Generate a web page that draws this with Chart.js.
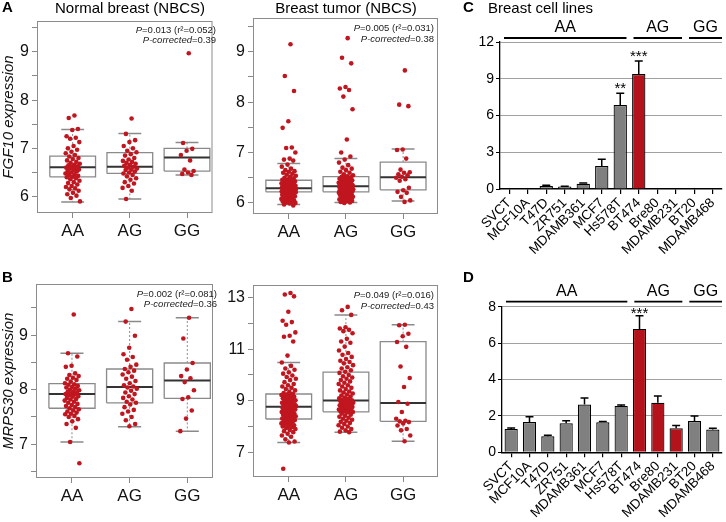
<!DOCTYPE html>
<html lang="en">
<head>
<meta charset="UTF-8">
<title>FGF10 / MRPS30 expression by genotype</title>
<script src="https://cdn.jsdelivr.net/npm/chart.js"></script>
<style>
  body { margin: 0; background: #fff; }
  #wrap { position: relative; width: 726px; height: 522px; overflow: hidden; }
  canvas { position: absolute; }
</style>
</head>
<body>
<div id="wrap">
  <canvas id="a1" width="232" height="252" style="left:0;top:0"></canvas>
  <canvas id="a2" width="222" height="252" style="left:226px;top:0"></canvas>
  <canvas id="b1" width="232" height="260" style="left:0;top:262px"></canvas>
  <canvas id="b2" width="222" height="260" style="left:226px;top:262px"></canvas>
  <canvas id="c" width="271" height="262" style="left:455px;top:0"></canvas>
  <canvas id="d" width="271" height="260" style="left:455px;top:262px"></canvas>
</div>
<script>
const genotypes = ['AA', 'AG', 'GG'];

// A - FGF10, normal breast (NBCS)
const fgfNormLow  = [5.89, 5.95, 6.45];
const fgfNormQ1   = [6.41, 6.48, 6.53];
const fgfNormMed  = [6.61, 6.62, 6.81];
const fgfNormQ3   = [6.84, 6.91, 7.00];
const fgfNormHigh = [7.39, 7.31, 7.12];
const fgfNormAA = [7.68, 7.63, 7.40, 7.38, 7.25, 7.22, 7.20, 7.13, 7.05, 7.00, 6.97, 6.93, 6.90, 6.86, 6.83, 6.80, 6.78, 6.75, 6.72, 6.70, 6.68, 6.66, 6.65, 6.63, 6.62, 6.60, 6.59, 6.58, 6.56, 6.55, 6.53, 6.52, 6.50, 6.48, 6.46, 6.45, 6.43, 6.41, 6.40, 6.38, 6.36, 6.33, 6.30, 6.28, 6.25, 6.22, 6.20, 6.17, 6.15, 6.12, 6.08, 6.05, 6.02, 5.97, 5.90];
const fgfNormAG = [7.62, 7.30, 7.17, 7.13, 7.05, 7.00, 6.95, 6.92, 6.88, 6.85, 6.80, 6.77, 6.74, 6.72, 6.70, 6.68, 6.66, 6.64, 6.62, 6.60, 6.58, 6.56, 6.55, 6.52, 6.50, 6.48, 6.45, 6.42, 6.38, 6.35, 6.30, 6.27, 6.22, 6.18, 6.12, 5.95];
const fgfNormGG = [8.97, 7.11, 6.99, 6.95, 6.86, 6.75, 6.56, 6.53, 6.50, 6.47, 6.45];
const fgfNormTicks = [6, 7, 8, 9];
const fgfNormMinor = [6.5, 7.5, 8.5, 9.5];

// A - FGF10, breast tumor (NBCS)
const fgfTumLow  = [5.97, 6.01, 6.04];
const fgfTumQ1   = [6.22, 6.22, 6.26];
const fgfTumMed  = [6.29, 6.33, 6.51];
const fgfTumQ3   = [6.45, 6.52, 6.81];
const fgfTumHigh = [6.78, 6.88, 7.07];
const fgfTumAA = [9.15, 8.52, 8.22, 7.62, 7.49, 7.10, 7.09, 7.00, 6.88, 6.86, 6.84, 6.76, 6.72, 6.68, 6.65, 6.63, 6.62, 6.60, 6.58, 6.56, 6.54, 6.52, 6.50, 6.49, 6.47,
  6.46, 6.45, 6.44, 6.43, 6.42, 6.41, 6.40, 6.40, 6.39, 6.38, 6.37, 6.37, 6.36, 6.35, 6.35, 6.34, 6.34, 6.33, 6.33, 6.32, 6.32, 6.31, 6.31, 6.30, 6.30,
  6.30, 6.29, 6.29, 6.28, 6.28, 6.28, 6.27, 6.27, 6.26, 6.26, 6.26, 6.25, 6.25, 6.25, 6.24, 6.24, 6.24, 6.23, 6.23, 6.23, 6.23, 6.22, 6.22, 6.22, 6.22,
  6.21, 6.20, 6.19, 6.18, 6.17, 6.16, 6.15, 6.14, 6.13, 6.12, 6.11, 6.10, 6.09, 6.08, 6.07, 6.06, 6.05, 6.04, 6.03, 6.02, 6.01, 6.00, 5.99, 5.97, 5.95];
const fgfTumAG = [9.27, 8.88, 8.77, 8.30, 8.27, 8.24, 8.11, 7.86, 7.26, 7.00, 6.92, 6.86, 6.80, 6.75, 6.70, 6.68, 6.65, 6.62, 6.60, 6.57, 6.55, 6.53,
  6.52, 6.51, 6.50, 6.48, 6.47, 6.46, 6.45, 6.44, 6.43, 6.42, 6.41, 6.40, 6.40, 6.39, 6.38, 6.37, 6.37, 6.36, 6.36, 6.35, 6.34, 6.34,
  6.33, 6.32, 6.32, 6.31, 6.30, 6.30, 6.29, 6.29, 6.28, 6.28, 6.27, 6.27, 6.26, 6.26, 6.25, 6.25, 6.24, 6.24, 6.23, 6.23, 6.22, 6.22,
  6.21, 6.20, 6.19, 6.18, 6.17, 6.16, 6.15, 6.14, 6.13, 6.12, 6.11, 6.10, 6.09, 6.08, 6.07, 6.06, 6.05, 6.04, 6.03, 6.02, 6.01, 6.00];
const fgfTumGG = [8.63, 7.95, 7.92, 7.06, 7.05, 6.88, 6.66, 6.61, 6.60, 6.57, 6.55, 6.52, 6.50, 6.47, 6.44, 6.30, 6.25, 6.22, 6.20, 6.12, 6.05, 6.02];
const fgfTumTicks = [6, 7, 8, 9];
const fgfTumMinor = [6.5, 7.5, 8.5, 9.5];

// B - MRPS30, normal breast
const mrpNormLow  = [7.04, 7.32, 7.24];
const mrpNormQ1   = [7.66, 7.76, 7.84];
const mrpNormMed  = [7.92, 8.05, 8.17];
const mrpNormQ3   = [8.11, 8.38, 8.49];
const mrpNormHigh = [8.67, 9.25, 9.32];
const mrpNormAA = [9.38, 8.67, 8.61, 8.44, 8.42, 8.30, 8.27, 8.25, 8.22, 8.20, 8.18, 8.15, 8.12, 8.10, 8.09, 8.07, 8.05, 8.04, 8.02, 8.00, 7.99, 7.97, 7.96, 7.94, 7.93, 7.92, 7.91, 7.90, 7.88, 7.87, 7.85, 7.83, 7.82, 7.80, 7.78, 7.76, 7.74, 7.72, 7.70, 7.68, 7.66, 7.64, 7.62, 7.60, 7.58, 7.56, 7.55, 7.52, 7.50, 7.46, 7.42, 7.37, 7.30, 7.04, 6.65];
const mrpNormAG = [9.48, 9.25, 8.99, 8.77, 8.65, 8.60, 8.55, 8.46, 8.42, 8.38, 8.35, 8.32, 8.28, 8.24, 8.20, 8.16, 8.12, 8.08, 8.06, 8.04, 8.02, 7.98, 7.95, 7.92, 7.88, 7.85, 7.82, 7.78, 7.76, 7.73, 7.68, 7.63, 7.60, 7.56, 7.50, 7.44, 7.37, 7.33];
const mrpNormGG = [9.32, 8.94, 8.49, 8.37, 8.25, 8.21, 8.14, 7.99, 7.86, 7.83, 7.62, 7.47, 7.24];
const mrpNormTicks = [7, 8, 9];
const mrpNormMinor = [6.5, 7.5, 8.5, 9.5];

// B - MRPS30, breast tumor
const mrpTumLow  = [7.38, 7.78, 7.43];
const mrpTumQ1   = [8.29, 8.57, 8.20];
const mrpTumMed  = [8.77, 9.01, 8.91];
const mrpTumQ3   = [9.26, 10.11, 11.29];
const mrpTumHigh = [10.48, 12.33, 11.95];
const mrpTumAA = [13.18, 13.12, 13.05, 12.45, 12.10, 12.05, 11.95, 11.65, 11.52, 11.48, 11.30, 10.75,
  10.48, 10.35, 10.25, 10.20, 10.10, 10.05, 9.98, 9.92, 9.85, 9.80, 9.72, 9.65, 9.60, 9.55, 9.50, 9.45, 9.40, 9.35, 9.30, 9.27,
  9.25, 9.22, 9.20, 9.18, 9.15, 9.12, 9.10, 9.08, 9.05, 9.02, 9.00, 8.98, 8.95, 8.93, 8.92, 8.90, 8.88, 8.86, 8.85, 8.83, 8.82, 8.80, 8.79, 8.78, 8.77,
  8.76, 8.74, 8.72, 8.70, 8.68, 8.66, 8.64, 8.62, 8.60, 8.58, 8.56, 8.54, 8.52, 8.50, 8.48, 8.46, 8.44, 8.42, 8.40, 8.38, 8.36, 8.34, 8.32, 8.31, 8.30,
  8.28, 8.25, 8.22, 8.20, 8.18, 8.15, 8.12, 8.10, 8.08, 8.05, 8.02, 8.00, 7.97, 7.94, 7.90, 7.86, 7.82, 7.78, 7.72, 7.65, 7.60, 7.50, 7.42, 7.38, 6.36];
const mrpTumAG = [12.64, 12.51, 12.33, 11.85, 11.80, 11.75, 11.70, 11.62, 11.40, 11.30, 11.25, 11.10, 10.95, 10.85, 10.78, 10.70, 10.62, 10.55, 10.50, 10.45, 10.38, 10.30, 10.25, 10.18, 10.12,
  10.08, 10.00, 9.95, 9.90, 9.85, 9.80, 9.75, 9.70, 9.65, 9.60, 9.55, 9.50, 9.45, 9.40, 9.36, 9.32, 9.28, 9.24, 9.20, 9.16, 9.12, 9.09, 9.06, 9.04, 9.02,
  9.00, 8.98, 8.96, 8.94, 8.92, 8.90, 8.88, 8.86, 8.84, 8.82, 8.80, 8.78, 8.76, 8.74, 8.72, 8.70, 8.68, 8.66, 8.65, 8.64, 8.62, 8.61, 8.60, 8.59, 8.58,
  8.56, 8.54, 8.50, 8.46, 8.42, 8.38, 8.34, 8.30, 8.26, 8.22, 8.18, 8.14, 8.10, 8.05, 8.00, 7.95, 7.90, 7.85, 7.80, 7.78];
const mrpTumGG = [11.95, 11.93, 11.60, 11.50, 11.28, 11.09, 10.33, 9.88, 9.53, 8.95, 8.88, 8.56, 8.30, 8.22, 8.20, 8.17, 8.12, 8.04, 7.90, 7.85, 7.65, 7.43];
const mrpTumTicks = [7, 9, 11, 13];
const mrpTumMinor = [8, 10, 12];

// C / D - breast cell lines
const cellLines = ['SVCT', 'MCF10A', 'T47D', 'ZR751', 'MDAMB361', 'MCF7', 'Hs578T', 'BT474', 'Bre80', 'MDAMB231', 'BT20', 'MDAMB468'];
const cellGenotype = ['AA', 'AA', 'AA', 'AA', 'AA', 'AA', 'AA', 'AG', 'AG', 'AG', 'GG', 'GG'];
const fgfCell    = [0, 0, 0.25, 0.20, 0.42, 1.88, 6.85, 9.38, 0, 0, 0, 0];
const fgfCellErr = [0, 0, 0.05, 0.03, 0.06, 0.55, 0.97, 1.07, 0, 0, 0, 0];
const fgfCellSig = ['', '', '', '', '', '', '**', '***', '', '', '', ''];
const mrpCell    = [1.28, 1.66, 0.88, 1.60, 2.62, 1.65, 2.55, 6.78, 2.72, 1.32, 1.72, 1.25];
const mrpCellErr = [0.06, 0.29, 0.05, 0.14, 0.36, 0.04, 0.05, 0.72, 0.38, 0.15, 0.27, 0.07];
const mrpCellSig = ['', '', '', '', '', '', '', '***', '', '', '', ''];

const FONT = '"Liberation Sans", Arial, Helvetica, sans-serif';
const PT_RED = '#c0161f';
const BAR_RED = '#b5131c';
const BAR_GRAY = '#808080';
Chart.defaults.font.family = FONT;

// small horizontal spread for the strip points
function jitter(i) { return (((i + 1) * 0.618034) % 1 - 0.5) * 0.26; }

function seg(list) {
  const out = [];
  list.forEach(s => { out.push(...s, { x: s[0].x, y: null }); });
  return out;
}

function drawRuns(ctx, runs, right, y) {
  const fonts = runs.map(r => (r[1] ? 'italic ' : '') + '9.5px ' + FONT);
  let w = 0;
  runs.forEach((r, i) => { ctx.font = fonts[i]; w += ctx.measureText(r[0]).width; });
  let x = right - w;
  ctx.textAlign = 'left';
  ctx.textBaseline = 'middle';
  runs.forEach((r, i) => { ctx.font = fonts[i]; ctx.fillText(r[0], x, y); x += ctx.measureText(r[0]).width; });
}

const boxDeco = {
  id: 'boxDeco',
  beforeDatasetsDraw(chart) {
    const { ctx, chartArea: a } = chart;
    ctx.save();
    ctx.strokeStyle = '#8c8c8c';
    ctx.lineWidth = 1;
    ctx.strokeRect(a.left + 0.5, a.top + 0.5, a.right - a.left - 1, a.bottom - a.top - 1);
    ctx.restore();
  },
  afterDraw(chart, args, o) {
    const ctx = chart.ctx;
    ctx.save();
    ctx.fillStyle = '#000';
    if (o.letter) {
      ctx.font = 'bold 15px ' + FONT;
      ctx.textAlign = 'left'; ctx.textBaseline = 'middle';
      ctx.fillText(o.letter, 2, o.letterY);
    }
    if (o.title) {
      ctx.font = '15px ' + FONT;
      ctx.textAlign = 'center'; ctx.textBaseline = 'middle';
      ctx.fillText(o.title, o.titleX, o.titleY);
    }
    ctx.fillStyle = '#222';
    o.stats.forEach((line, k) => drawRuns(ctx, line, o.statX, o.statY[k]));
    ctx.restore();
  }
};

function boxChart(id, o) {
  const pts = [], whisk = [], caps = [], boxes = [], meds = [];
  o.points.forEach((arr, g) => arr.forEach((v, i) => pts.push({ x: g + 1 + jitter(i), y: v })));
  genotypes.forEach((_, g) => {
    const c = g + 1;
    whisk.push([{ x: c, y: o.q3[g] }, { x: c, y: o.high[g] }], [{ x: c, y: o.q1[g] }, { x: c, y: o.low[g] }]);
    caps.push([{ x: c - 0.2, y: o.high[g] }, { x: c + 0.2, y: o.high[g] }], [{ x: c - 0.2, y: o.low[g] }, { x: c + 0.2, y: o.low[g] }]);
    boxes.push([{ x: c - 0.4, y: o.q1[g] }, { x: c + 0.4, y: o.q1[g] }, { x: c + 0.4, y: o.q3[g] }, { x: c - 0.4, y: o.q3[g] }, { x: c - 0.4, y: o.q1[g] }]);
    meds.push([{ x: c - 0.4, y: o.med[g] }, { x: c + 0.4, y: o.med[g] }]);
  });
  const lineSet = (data, color, width, dash, order) => ({
    type: 'line', data: seg(data), borderColor: color, borderWidth: width, borderDash: dash,
    pointRadius: 0, fill: false, spanGaps: false, tension: 0, order: order
  });
  const canvas = document.getElementById(id);
  const allTicks = o.ticks.concat(o.minor).sort((a, b) => a - b);
  new Chart(canvas, {
    type: 'scatter',
    data: {
      datasets: [
        { type: 'scatter', data: pts, backgroundColor: PT_RED, borderWidth: 0, pointRadius: 2.3, order: 0 },
        lineSet(meds, '#333', 2, [], 1),
        lineSet(boxes, '#8a8a8a', 1.3, [], 2),
        lineSet(caps, '#8a8a8a', 1.5, [], 3),
        lineSet(whisk, '#8a8a8a', 1, [2, 2], 4)
      ]
    },
    options: {
      responsive: false, animation: false, events: [],
      layout: { padding: { top: o.top, right: canvas.width - o.right, left: 0, bottom: 0 } },
      plugins: {
        legend: { display: false }, tooltip: { enabled: false },
        boxDeco: o.deco
      },
      scales: {
        x: {
          type: 'linear', min: o.xMin, max: o.xMax,
          afterBuildTicks: s => { s.ticks = [1, 2, 3].map(v => ({ value: v })); },
          afterFit: s => { s.height = canvas.height - o.bottom; },
          ticks: { callback: v => genotypes[v - 1], font: { size: 17 }, color: '#111', padding: 3, autoSkip: false, maxRotation: 0 },
          grid: { drawOnChartArea: false, tickLength: 5, color: '#888' },
          border: { display: false }
        },
        y: {
          type: 'linear', min: o.yMin, max: o.yMax,
          afterBuildTicks: s => { s.ticks = allTicks.map(v => ({ value: v })); },
          afterFit: s => { s.width = o.left; },
          ticks: { callback: v => o.ticks.includes(v) ? String(v) : '', font: { size: 16 }, color: '#111', padding: 3, autoSkip: false },
          grid: { drawOnChartArea: false, tickLength: 5, color: '#888' },
          border: { display: false },
          title: { display: !!o.yTitle, text: o.yTitle || '', font: { size: 15, style: 'italic' }, color: '#111', padding: 0 }
        }
      }
    },
    plugins: [boxDeco]
  });
}

const barDeco = {
  id: 'barDeco',
  afterDatasetsDraw(chart, args, o) {
    const { ctx } = chart;
    const xs = chart.scales.x, ys = chart.scales.y;
    const meta = chart.getDatasetMeta(0);
    ctx.save();
    ctx.strokeStyle = '#000';
    ctx.lineWidth = 1.5;
    o.err.forEach((e, i) => {
      if (!e) return;
      const bar = meta.data[i];
      const y0 = ys.getPixelForValue(o.values[i]);
      const y1 = ys.getPixelForValue(o.values[i] + e);
      const hw = bar.width * 0.3;
      ctx.beginPath();
      ctx.moveTo(bar.x, y0); ctx.lineTo(bar.x, y1);
      ctx.moveTo(bar.x - hw, y1); ctx.lineTo(bar.x + hw, y1);
      ctx.stroke();
    });
    ctx.fillStyle = '#000';
    ctx.font = '15px ' + FONT;
    ctx.textAlign = 'center';
    ctx.textBaseline = 'alphabetic';
    o.sig.forEach((s, i) => {
      if (!s) return;
      const y1 = ys.getPixelForValue(o.values[i] + o.err[i]);
      ctx.fillText(s, meta.data[i].x, y1 + o.starDy);
    });
    // genotype group rules above the bars
    const step = xs.width / cellLines.length;
    const lineY = chart.chartArea.top - o.groupGap;
    let start = 0;
    for (let i = 1; i <= cellGenotype.length; i++) {
      if (i === cellGenotype.length || cellGenotype[i] !== cellGenotype[start]) {
        const x0 = xs.getPixelForValue(start) - step / 2 + 4;
        const x1 = xs.getPixelForValue(i - 1) + step / 2 - (i === cellGenotype.length ? 0 : 3);
        ctx.lineWidth = 1.8;
        ctx.beginPath(); ctx.moveTo(x0, lineY); ctx.lineTo(x1, lineY); ctx.stroke();
        ctx.font = '16px ' + FONT;
        ctx.textBaseline = 'middle';
        ctx.fillText(cellGenotype[start], (x0 + x1) / 2, lineY - 10);
        start = i;
      }
    }
    ctx.textAlign = 'left';
    ctx.textBaseline = 'middle';
    if (o.letter) { ctx.font = 'bold 15px ' + FONT; ctx.fillText(o.letter, 8, o.letterY); }
    if (o.title) { ctx.font = '15px ' + FONT; ctx.fillText(o.title, 33, 9); }
    ctx.restore();
  }
};

function barChart(id, o) {
  const canvas = document.getElementById(id);
  new Chart(canvas, {
    type: 'bar',
    data: {
      labels: cellLines,
      datasets: [{
        data: o.values,
        backgroundColor: cellGenotype.map(g => g === 'AG' ? BAR_RED : BAR_GRAY),
        borderColor: '#000', borderWidth: 1.2,
        barPercentage: 0.72, categoryPercentage: 1
      }]
    },
    options: {
      responsive: false, animation: false, events: [],
      layout: { padding: { top: o.top, right: canvas.width - o.right, left: 0, bottom: 0 } },
      plugins: { legend: { display: false }, tooltip: { enabled: false }, barDeco: o },
      scales: {
        x: {
          afterFit: s => { s.height = canvas.height - o.bottom; },
          ticks: { font: { size: 13.5 }, color: '#000', minRotation: 45, maxRotation: 45, autoSkip: false, padding: 1 },
          grid: { offset: false, drawOnChartArea: false, tickLength: 5, color: '#000', lineWidth: 1.2 },
          border: { color: '#000', width: 1.6 }
        },
        y: {
          min: 0, max: o.max,
          afterFit: s => { s.width = o.left; },
          ticks: { stepSize: o.step, font: { size: 14 }, color: '#000', padding: 2 },
          grid: { color: c => c.tick.value === 0 ? 'rgba(0,0,0,0)' : '#a0a0a0', tickColor: '#000', tickLength: 4, lineWidth: 1 },
          border: { color: '#000', width: 1.3 }
        }
      }
    },
    plugins: [barDeco]
  });
}

const pTextA1 = [[['P', 1], ['=0.013 (r\u00b2=0.052)', 0]], [['P-corrected', 1], ['=0.39', 0]]];
const pTextA2 = [[['P', 1], ['=0.005 (r\u00b2=0.031)', 0]], [['P-corrected', 1], ['=0.38', 0]]];
const pTextB1 = [[['P', 1], ['=0.002 (r\u00b2=0.081)', 0]], [['P-corrected', 1], ['=0.36', 0]]];
const pTextB2 = [[['P', 1], ['=0.049 (r\u00b2=0.016)', 0]], [['P-corrected', 1], ['=0.43', 0]]];

boxChart('a1', {
  low: fgfNormLow, q1: fgfNormQ1, med: fgfNormMed, q3: fgfNormQ3, high: fgfNormHigh,
  points: [fgfNormAA, fgfNormAG, fgfNormGG], ticks: fgfNormTicks, minor: fgfNormMinor,
  yMin: 5.66, yMax: 9.64, xMin: 0.376, xMax: 3.446,
  left: 37, right: 212.5, top: 21, bottom: 213, yTitle: 'FGF10 expression',
  deco: { letter: 'A', letterY: 8, title: 'Normal breast (NBCS)', titleX: 130, titleY: 9, stats: pTextA1, statX: 216, statY: [30, 40] }
});
boxChart('a2', {
  low: fgfTumLow, q1: fgfTumQ1, med: fgfTumMed, q3: fgfTumQ3, high: fgfTumHigh,
  points: [fgfTumAA, fgfTumAG, fgfTumGG], ticks: fgfTumTicks, minor: fgfTumMinor,
  yMin: 5.78, yMax: 9.67, xMin: 0.375, xMax: 3.61,
  left: 27, right: 212, top: 18, bottom: 214,
  deco: { title: 'Breast tumor (NBCS)', titleX: 120, titleY: 9, stats: pTextA2, statX: 208, statY: [28, 39] }
});
boxChart('b1', {
  low: mrpNormLow, q1: mrpNormQ1, med: mrpNormMed, q3: mrpNormQ3, high: mrpNormHigh,
  points: [mrpNormAA, mrpNormAG, mrpNormGG], ticks: mrpNormTicks, minor: mrpNormMinor,
  yMin: 6.38, yMax: 9.94, xMin: 0.376, xMax: 3.446,
  left: 36, right: 213, top: 22, bottom: 216, yTitle: 'MRPS30 expression',
  deco: { letter: 'B', letterY: 16, stats: pTextB1, statX: 217, statY: [32, 42] }
});
boxChart('b2', {
  low: mrpTumLow, q1: mrpTumQ1, med: mrpTumMed, q3: mrpTumQ3, high: mrpTumHigh,
  points: [mrpTumAA, mrpTumAG, mrpTumGG], ticks: mrpTumTicks, minor: mrpTumMinor,
  yMin: 6.04, yMax: 13.49, xMin: 0.375, xMax: 3.61,
  left: 27, right: 212, top: 23, bottom: 215,
  deco: { stats: pTextB2, statX: 208, statY: [33, 44] }
});

barChart('c', {
  values: fgfCell, err: fgfCellErr, sig: fgfCellSig, max: 12, step: 3,
  left: 45, right: 267, top: 42, bottom: 189, groupGap: 4, starDy: 0,
  letter: 'C', letterY: 8, title: 'Breast cell lines'
});
barChart('d', {
  values: mrpCell, err: mrpCellErr, sig: mrpCellSig, max: 8, step: 2,
  left: 47, right: 267, top: 44.7, bottom: 190.3, groupGap: 5, starDy: 2.5,
  letter: 'D', letterY: 16
});
</script>
</body>
</html>
